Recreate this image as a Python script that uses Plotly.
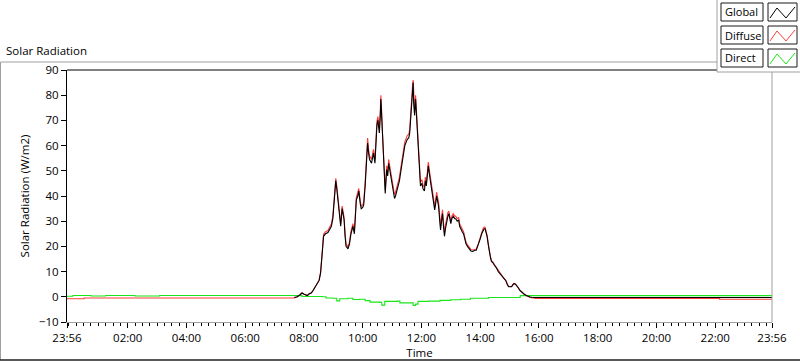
import plotly.graph_objects as go

# ---------------- data (clock times; "-" prefix = previous day) ----------------
day_times = ["07:40","07:46","07:52","07:56","08:00","08:04","08:07","08:11","08:15","08:19",
             "08:23","08:27","08:31","08:34","08:36","08:38","08:40","08:44","08:49","08:53",
             "08:56","08:59","09:01","09:03","09:05","09:07","09:09","09:12","09:15","09:18",
             "09:20","09:22","09:24","09:26","09:30","09:33","09:36","09:40","09:43","09:45",
             "09:47","09:50","09:52","09:55","09:57","10:00","10:02","10:05","10:08","10:10",
             "10:12","10:14","10:18","10:20","10:22","10:25","10:27","10:29","10:31","10:34",
             "10:36","10:37","10:38","10:40","10:43","10:46","10:49","10:51","10:53","10:56",
             "10:58","11:00","11:02","11:05","11:07","11:10","11:12","11:15","11:18","11:21",
             "11:26","11:31","11:34","11:36","11:38","11:40","11:42","11:43","11:44","11:45",
             "11:46","11:48","11:51","11:53","11:55","11:57","11:58","12:01","12:03","12:06",
             "12:08","12:10","12:12","12:14","12:16","12:18","12:20","12:22","12:25","12:27",
             "12:29","12:31","12:33","12:35","12:37","12:39","12:41","12:43","12:45","12:47",
             "12:49","12:52","12:54","12:56","12:58","13:00","13:02","13:05","13:08","13:10",
             "13:13","13:16","13:18","13:21","13:24","13:26","13:29","13:31","13:34","13:37",
             "13:41","13:45","13:49","13:52","13:56","14:00","14:03","14:06","14:08","14:10",
             "14:12","14:14","14:17","14:19","14:21","14:23","14:26","14:29","14:33","14:37",
             "14:41","14:45","14:49","14:52","14:55","14:58","15:01","15:04","15:07","15:09",
             "15:12","15:15","15:18","15:21","15:25","15:30","15:34","15:38","15:42","15:47"]

global_day = [-0.3, 0.0, 0.8, 1.5, 1.0, 0.6, 0.5, 1.2, 1.5, 2.6,
              3.9, 5.2, 6.5, 9.5, 13, 19, 24, 25, 25.5, 27,
              28, 31, 35, 41, 46, 43, 38.5, 32, 28, 35,
              33, 30.5, 24, 20, 19, 21, 25, 28, 25, 31,
              38.5, 40, 42, 37, 35, 35.5, 36.5, 44, 55, 61,
              57, 54.5, 53, 56, 57, 53, 62, 68, 70, 65,
              72, 78.5, 75, 65, 52, 41, 50.5, 48, 53, 49,
              48, 44, 42.5, 39, 40, 42, 44, 46, 50, 54.5,
              60, 62.5, 63, 65, 72, 78.5, 83, 85, 77, 73,
              72, 78.5, 68, 62, 57, 50, 44, 45, 43, 42,
              46, 44, 48, 52, 49, 46.5, 43, 41, 38, 34.5,
              37, 40, 38, 36, 31, 26.5, 30, 33, 28, 24,
              27, 30.5, 32, 33, 30, 29, 31, 32, 31, 31,
              30, 30.5, 28, 26.5, 25.5, 25, 22.5, 21, 20, 19,
              18.2, 18, 18.5, 18.5, 20.5, 23, 25, 26.5, 27, 27,
              25.5, 24, 20, 17, 15.5, 14, 13.5, 12.5, 11.5, 10,
              9, 8, 7, 6.5, 5, 4, 4, 4, 4.8, 5.2,
              5, 4.4, 3.5, 2.5, 1.7, 1, 0.5, 0.1, -0.1, -0.3]

diffuse_day = [-0.5, -0.1, 0.8, 1.6, 1.1, 0.7, 0.6, 1.3, 1.6, 2.7,
               4.0, 5.3, 6.7, 9.8, 13.5, 19.5, 24.8, 25.8, 26.3, 27.8,
               29, 32, 36.5, 42.5, 47, 44, 39.5, 33, 29, 36,
               34, 31.5, 25, 21, 19.8, 21.8, 26, 29, 26, 32,
               39.5, 41.5, 43, 38, 36, 36.5, 37.5, 45.5, 56.5, 63,
               58.5, 56, 54.5, 57.5, 58.5, 54.5, 63.5, 69.5, 71.5, 67,
               74, 80, 77, 66.5, 53.5, 42.5, 52, 49.5, 54.5, 50.5,
               49.5, 45.5, 44, 40.5, 41.5, 43.5, 45.5, 47.5, 51.5, 56,
               61.5, 64, 64.5, 66.5, 74, 80.5, 84.5, 86, 79, 75,
               74, 80, 69.5, 63.5, 58.5, 51.5, 45.5, 46.5, 44.5, 43.5,
               47.5, 45.5, 49.5, 53.5, 50.5, 48, 44.5, 42.5, 39.5, 36,
               38.5, 41.5, 39.5, 37.5, 32.5, 28, 31.5, 34.5, 29.5, 25.5,
               28.5, 32, 33.5, 34, 31, 30, 32, 33, 32, 32,
               31, 31.5, 29, 27.5, 26.5, 25.8, 23.3, 21.7, 20.6, 19.6,
               18.8, 18.6, 19, 19, 21, 23.6, 25.7, 27.2, 27.7, 27.6,
               26, 24.5, 20.5, 17.4, 15.8, 14.3, 13.8, 12.8, 11.7, 10.2,
               9.2, 8.2, 7.1, 6.6, 5.1, 4.1, 4.1, 4.1, 4.9, 5.3,
               5.1, 4.5, 3.6, 2.6, 1.8, 1.0, 0.5, 0.0, -0.3, -0.5]

global_night_times = ["15:47", "16:00", "20:00", "23:56"]
global_night = [-0.3, -0.25, -0.25, -0.25]

diffuse_am_times = ["-23:56", "00:30", "00:31", "03:00", "05:00", "07:40"]
diffuse_am = [-0.8, -0.8, -0.5, -0.5, -0.5, -0.5]
diffuse_pm_times = ["15:47", "15:52", "19:00", "22:08", "22:09", "23:56"]
diffuse_pm = [-0.5, -0.65, -0.65, -0.65, -1.0, -1.0]

direct_times = ["-23:56", "00:05", "00:08", "00:40", "00:45", "01:10", "01:15", "02:10", "02:15",
                "03:00", "03:05", "03:40", "03:45", "07:46", "07:56", "08:37", "08:45", "08:59",
                "09:07", "09:13", "09:30", "09:40", "09:54", "10:05", "10:15", "10:35", "10:39",
                "10:45", "11:10", "11:16", "11:37", "11:43", "11:48", "11:53", "12:15", "12:38",
                "13:00", "13:20", "13:40", "14:00", "14:15", "14:17", "15:20", "15:22", "23:56"]
direct_vals = [0.2, 0.2, 0.5, 0.5, 0.3, 0.3, 0.5, 0.5, 0.3,
               0.3, 0.5, 0.5, 0.5, 0.45, 0.1, 0.0, -0.5, -0.6,
               -1.6, -0.8, -0.6, -1.1, -1.0, -1.5, -2.1, -2.2, -3.3,
               -1.8, -1.7, -2.4, -2.4, -3.4, -2.9, -1.8, -1.7, -1.4,
               -1.2, -1.0, -0.6, -0.6, -0.6, -0.25, -0.2, 0.45, 0.45]

tick_labels = ["23:56", "02:00", "04:00", "06:00", "08:00", "10:00", "12:00",
               "14:00", "16:00", "18:00", "20:00", "22:00", "23:56"]
tick_times = ["-23:56", "02:00", "04:00", "06:00", "08:00", "10:00", "12:00",
              "14:00", "16:00", "18:00", "20:00", "22:00", "23:56"]
y_ticks = [-10, 0, 10, 20, 30, 40, 50, 60, 70, 80, 90]
series_names = ["Global", "Diffuse", "Direct"]
series_colors = ["#000000", "#ff3c3c", "#18e618"]


def to_dt(s):
    if s.startswith("-"):
        return "2023-01-01 " + s[1:]
    return "2023-01-02 " + s


def conv(lst):
    return [to_dt(s) for s in lst]


FONT = "Open Sans"
W, H = 800, 361
L, R, T, B = 67, 28, 70, 39
PW, PH = W - L - R, H - T - B


def px(x):
    return (x - L) / PW


def py(y):
    return (H - B - y) / PH


fig = go.Figure()
line_w = 1.1
fig.add_trace(go.Scatter(x=conv(direct_times), y=direct_vals, mode="lines", name="Direct",
                         line=dict(color=series_colors[2], width=line_w, shape="hv"),
                         showlegend=False, hoverinfo="skip"))
fig.add_trace(go.Scatter(x=conv(diffuse_am_times), y=diffuse_am, mode="lines", name="Diffuse",
                         line=dict(color=series_colors[1], width=line_w, shape="hv"),
                         showlegend=False, hoverinfo="skip"))
fig.add_trace(go.Scatter(x=conv(day_times), y=diffuse_day, mode="lines", name="Diffuse",
                         line=dict(color=series_colors[1], width=line_w),
                         showlegend=False, hoverinfo="skip"))
fig.add_trace(go.Scatter(x=conv(diffuse_pm_times), y=diffuse_pm, mode="lines", name="Diffuse",
                         line=dict(color=series_colors[1], width=line_w, shape="hv"),
                         showlegend=False, hoverinfo="skip"))
fig.add_trace(go.Scatter(x=conv(day_times), y=global_day, mode="lines", name="Global",
                         line=dict(color=series_colors[0], width=line_w),
                         showlegend=False, hoverinfo="skip"))
fig.add_trace(go.Scatter(x=conv(global_night_times), y=global_night, mode="lines", name="Global",
                         line=dict(color=series_colors[0], width=line_w),
                         showlegend=False, hoverinfo="skip"))

fig.update_xaxes(
    range=[to_dt("-23:56"), to_dt("23:56")],
    tickmode="array", tickvals=conv(tick_times), ticktext=tick_labels,
    ticks="outside", ticklen=5, tickcolor="#000", tickwidth=1,
    minor=dict(ticks="outside", ticklen=3, tickcolor="#000", tickwidth=1,
               dtick=15 * 60 * 1000, tick0="2023-01-02 00:00"),
    showline=True, linecolor="#a0a0a0", linewidth=1,
    showgrid=False, zeroline=False, automargin=False,
    tickfont=dict(family=FONT, size=11.5, color="#000"),
    title=dict(text="Time", font=dict(family=FONT, size=11.5, color="#000"), standoff=2),
)
fig.update_yaxes(
    range=[-10, 90], tickmode="array", tickvals=y_ticks,
    ticks="outside", ticklen=5, tickcolor="#000", tickwidth=1,
    showline=True, linecolor="#000", linewidth=1,
    showgrid=False, zeroline=False, automargin=False,
    tickfont=dict(family=FONT, size=11.5, color="#000"),
    title=dict(text="Solar Radiation (W/m2)", font=dict(family=FONT, size=11.5, color="#000"),
               standoff=6),
)

shapes = []
shapes.append(dict(type="line", xref="paper", yref="paper", x0=px(0.5), x1=px(717), y0=py(62), y1=py(62),
                   line=dict(color="#a0a0a0", width=1)))
shapes.append(dict(type="line", xref="paper", yref="paper", x0=px(0.5), x1=px(0.5), y0=py(62), y1=py(360),
                   line=dict(color="#a0a0a0", width=1)))
shapes.append(dict(type="line", xref="paper", yref="paper", x0=px(0), x1=px(800), y0=py(360), y1=py(360),
                   line=dict(color="#202020", width=1.5)))
shapes.append(dict(type="line", xref="paper", yref="paper", x0=0, x1=1, y0=1, y1=1,
                   line=dict(color="#000", width=1)))
shapes.append(dict(type="line", xref="paper", yref="paper", x0=1, x1=1, y0=0, y1=1,
                   line=dict(color="#a0a0a0", width=1)))
shapes.append(dict(type="rect", xref="paper", yref="paper", x0=px(717), x1=px(800), y0=py(72), y1=py(0),
                   fillcolor="#ffffff", line=dict(width=0), layer="above"))
shapes.append(dict(type="line", xref="paper", yref="paper", x0=px(717), x1=px(717), y0=py(72), y1=py(0),
                   line=dict(color="#a0a0a0", width=1), layer="above"))
shapes.append(dict(type="line", xref="paper", yref="paper", x0=px(717), x1=px(800), y0=py(72), y1=py(72),
                   line=dict(color="#a0a0a0", width=1), layer="above"))

annotations = [dict(text="Solar Radiation", xref="paper", yref="paper", x=px(4), y=py(50),
                    xanchor="left", yanchor="middle", showarrow=False,
                    font=dict(family=FONT, size=11.5, color="#000"))]

for i, (name, col) in enumerate(zip(series_names, series_colors)):
    top = 3 + 23 * i
    bot = top + 18
    shapes.append(dict(type="rect", xref="paper", yref="paper", x0=px(721), x1=px(763),
                       y0=py(bot), y1=py(top), line=dict(color="#1a1a1a", width=1),
                       fillcolor="#ffffff", layer="above"))
    shapes.append(dict(type="rect", xref="paper", yref="paper", x0=px(768), x1=px(797),
                       y0=py(bot), y1=py(top), line=dict(color="#1a1a1a", width=1),
                       fillcolor="#ffffff", layer="above"))
    pts = [(770, bot - 3), (777, top + 5), (786, bot - 3), (795, top + 4)]
    path = "M " + " L ".join(f"{px(a):.5f},{py(b):.5f}" for a, b in pts)
    shapes.append(dict(type="path", xref="paper", yref="paper", path=path,
                       line=dict(color=col, width=1), layer="above"))
    annotations.append(dict(text=name, xref="paper", yref="paper", x=px(723), y=py((top + bot) / 2),
                            xanchor="left", yanchor="middle", showarrow=False,
                            font=dict(family=FONT, size=11, color="#000")))

fig.update_layout(
    width=W, height=H,
    margin=dict(l=L, r=R, t=T, b=B, pad=0, autoexpand=False),
    paper_bgcolor="#ffffff", plot_bgcolor="#ffffff",
    shapes=shapes, annotations=annotations,
    showlegend=False,
)

fig.write_html("out.html", config={"displayModeBar": False},
               post_script="document.body.style.margin='0';document.body.style.overflow='hidden';")
